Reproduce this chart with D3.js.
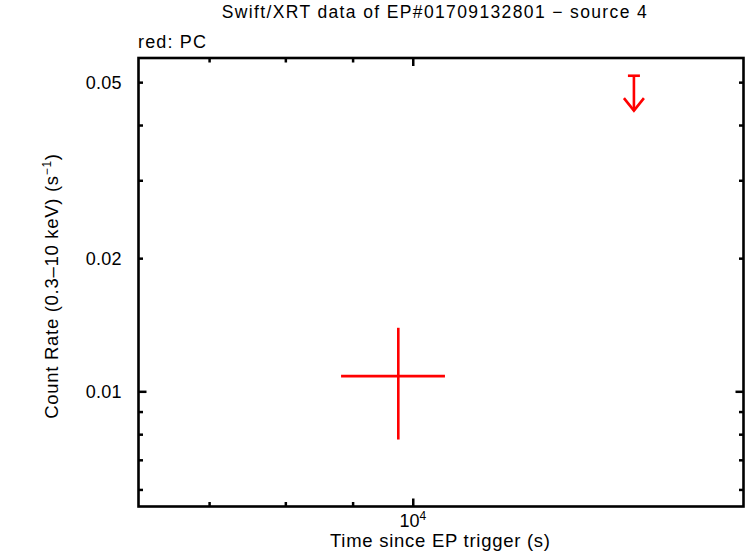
<!DOCTYPE html>
<html>
<head>
<meta charset="utf-8">
<script src="https://cdn.jsdelivr.net/npm/d3@7"></script>
<style>
  body { margin: 0; background: #fff; }
  svg text { font-family: "Liberation Sans", Arial, Helvetica, sans-serif; fill: #000; }
</style>
</head>
<body>
<div id="chart"></div>
<script>
// PC mode detections: time (s), rate (counts/s), asymmetric errors
var pcTime     = [9750];
var pcTimeLo   = [930];
var pcTimeHi   = [830];
var pcRate     = [0.01082];
var pcRateLo   = [0.00304];
var pcRateHi   = [0.00310];

// PC mode upper limits
var ulTime = [14730];
var ulRate = [0.0517];

// axis ticks
var xMajorTicks = [10000];
var xMinorTicks = [7000, 8000, 9000];
var yMajorTicks = [0.01];
var yMinorTicks = [0.006, 0.007, 0.008, 0.009, 0.02, 0.03, 0.04, 0.05];
var yTickLabels = [0.01, 0.02, 0.05];

var lcChart = {

  config: {
    width: 746,
    height: 558,
    left: 138.5,
    right: 743.5,
    top: 58,
    bottom: 506.5,
    red: '#ff0000'
  },

  display: function() {
    this.createSvg();
    this.createScales();
    this.createAxes();
    this.createPoints();
    this.createLabels();
  },

  createSvg: function() {
    this.svg = d3.select('#chart').append('svg')
                 .attr('width', this.config.width)
                 .attr('height', this.config.height);
  },

  createScales: function() {
    var c = this.config;
    this.x = d3.scaleLog().domain([6186, 17846]).range([c.left, c.right]);
    this.y = d3.scaleLog().domain([0.00549, 0.0567]).range([c.bottom, c.top]);
  },

  /* ---
   * gnuplot style frame with inward ticks mirrored on all four sides
   */
  createAxes: function() {
    var c = this.config, svg = this.svg, x = this.x, y = this.y;
    var sets = [
      [d3.axisBottom(x), xMajorTicks, 8, 'translate(0,' + c.bottom + ')'],
      [d3.axisBottom(x), xMinorTicks, 4.5, 'translate(0,' + c.bottom + ')'],
      [d3.axisTop(x), xMajorTicks, 8, 'translate(0,' + c.top + ')'],
      [d3.axisTop(x), xMinorTicks, 4.5, 'translate(0,' + c.top + ')'],
      [d3.axisLeft(y), yMajorTicks, 8, 'translate(' + c.left + ',0)'],
      [d3.axisLeft(y), yMinorTicks, 4.5, 'translate(' + c.left + ',0)'],
      [d3.axisRight(y), yMajorTicks, 8, 'translate(' + c.right + ',0)'],
      [d3.axisRight(y), yMinorTicks, 4.5, 'translate(' + c.right + ',0)']
    ];
    sets.forEach(function(s) {
      var g = svg.append('g')
                 .attr('transform', s[3])
                 .call(s[0].tickValues(s[1]).tickSizeInner(-s[2]).tickSizeOuter(0).tickFormat(''));
      g.select('.domain').remove();
      g.selectAll('line').attr('stroke', '#000').attr('stroke-width', 2.5);
    });

    svg.append('rect')
       .attr('x', c.left).attr('y', c.top)
       .attr('width', c.right - c.left).attr('height', c.bottom - c.top)
       .attr('fill', 'none').attr('stroke', '#000').attr('stroke-width', 2.6);
  },

  createPoints: function() {
    var x = this.x, y = this.y, red = this.config.red;
    var g = this.svg.append('g').attr('stroke', red).attr('stroke-width', 2.6).attr('fill', 'none');

    pcTime.forEach(function(t, i) {
      g.append('line')
       .attr('x1', x(t - pcTimeLo[i])).attr('x2', x(t + pcTimeHi[i]))
       .attr('y1', y(pcRate[i])).attr('y2', y(pcRate[i]));
      g.append('line')
       .attr('x1', x(t)).attr('x2', x(t))
       .attr('y1', y(pcRate[i] - pcRateLo[i])).attr('y2', y(pcRate[i] + pcRateHi[i]));
    });

    ulTime.forEach(function(t, i) {
      var px = x(t), py0 = y(ulRate[i]), py1 = y(ulRate[i] * 0.834);
      g.append('line').attr('x1', px - 6).attr('x2', px + 6).attr('y1', py0).attr('y2', py0);
      g.append('line').attr('x1', px).attr('x2', px).attr('y1', py0).attr('y2', py1);
      g.append('path')
       .attr('d', 'M' + (px - 10) + ',' + (py1 - 12.5) + 'L' + px + ',' + py1 + 'L' + (px + 10) + ',' + (py1 - 12.5));
    });
  },

  createLabels: function() {
    var c = this.config, svg = this.svg, x = this.x, y = this.y;

    svg.append('text')
       .attr('x', 221.7).attr('y', 17.5)
       .attr('font-size', 17.5)
       .attr('textLength', 425).attr('lengthAdjust', 'spacing')
       .text('Swift/XRT data of EP#01709132801 \u2212 source 4');

    svg.append('text')
       .attr('x', 138).attr('y', 47.5)
       .attr('font-size', 18)
       .attr('textLength', 68).attr('lengthAdjust', 'spacing')
       .text('red: PC');

    svg.selectAll('.ylab')
       .data(yTickLabels)
       .enter().append('text')
       .attr('class', 'ylab')
       .attr('x', 121.7)
       .attr('y', function(d) { return y(d) + 6.5; })
       .attr('text-anchor', 'end')
       .attr('font-size', 18)
       .attr('letter-spacing', 0.2)
       .text(function(d) { return d3.format('.2f')(d); });

    var xl = svg.selectAll('.xlab')
       .data(xMajorTicks)
       .enter().append('text')
       .attr('class', 'xlab')
       .attr('x', function(d) { return x(d); })
       .attr('y', 527.3)
       .attr('text-anchor', 'middle')
       .attr('font-size', 18);
    xl.append('tspan').text('10');
    xl.append('tspan').attr('font-size', 12).attr('dy', -7).text(function(d) { return Math.round(Math.log10(d)); });

    svg.append('text')
       .attr('x', 330).attr('y', 546.7)
       .attr('font-size', 18.5)
       .attr('textLength', 220).attr('lengthAdjust', 'spacing')
       .text('Time since EP trigger (s)');

    var yl = svg.append('text')
       .attr('transform', 'translate(58,286) rotate(-90)')
       .attr('text-anchor', 'middle')
       .attr('font-size', 18.5)
       .attr('letter-spacing', 0.7);
    yl.append('tspan').text('Count Rate (0.3\u201310 keV) (s');
    yl.append('tspan').attr('font-size', 12).attr('dy', -7).text('\u22121');
    yl.append('tspan').attr('dy', 7).text(')');
  }

};

lcChart.display();
</script>
</body>
</html>
